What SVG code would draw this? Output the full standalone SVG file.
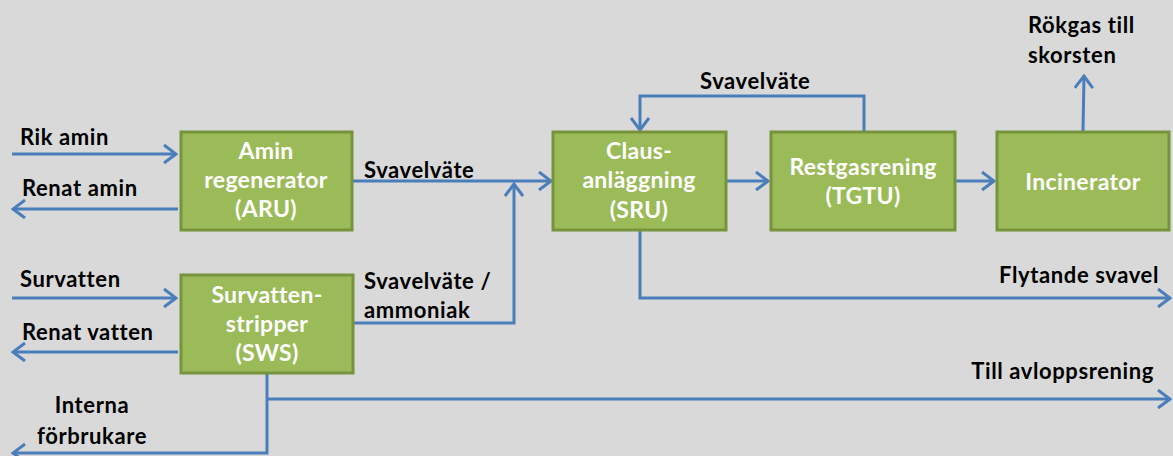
<svg xmlns="http://www.w3.org/2000/svg" width="1173" height="456" viewBox="0 0 1173 456">
<style>
.box{fill:#9bbb59;stroke:#77933c;stroke-width:3}
.bt{font-family:Lato,"Liberation Sans",sans-serif;font-weight:bold;font-size:23px;letter-spacing:0.3px;fill:#fff;text-anchor:middle}
.lb{font-family:Lato,"Liberation Sans",sans-serif;font-weight:bold;font-size:22px;letter-spacing:0.6px;fill:#000}
.ln{fill:none;stroke:#4a7ebb;stroke-width:3}
.ar{marker-end:url(#ah)}
</style>
<defs>
<marker id="ah" markerUnits="userSpaceOnUse" viewBox="0 0 16 20" refX="14" refY="10" markerWidth="16" markerHeight="20" orient="auto">
<path d="M2,1 L14,10 L2,19" fill="none" stroke="#4a7ebb" stroke-width="3"/>
</marker>
</defs>
<rect width="1173" height="456" fill="#d9d9d9"/>
<g id="connectors">
<path class="ln ar" d="M12,154 H176"/>
<path class="ln ar" d="M178,209 H13"/>
<path class="ln ar" d="M352,181 H551"/>
<path class="ln ar" d="M352,323 H514 V184"/>
<path class="ln ar" d="M726,181 H768"/>
<path class="ln ar" d="M955,181 H994"/>
<path class="ln ar" d="M864,132 V96 H640 V130"/>
<path class="ln ar" d="M1083,131 L1084,76"/>
<path class="ln ar" d="M640,230 V298 H1170"/>
<path class="ln ar" d="M12,298 H176"/>
<path class="ln ar" d="M178,352 H13"/>
<path class="ln" d="M267,373 V399"/>
<path class="ln ar" d="M267,399 H1170"/>
<path class="ln ar" d="M267,399 V453 H13"/>
</g>
<g id="labels">
<text class="lb" x="20" y="145">Rik amin</text>
<text class="lb" x="22" y="196">Renat amin</text>
<text class="lb" x="20" y="287">Survatten</text>
<text class="lb" x="22" y="340">Renat vatten</text>
<text class="lb" x="92" y="413" text-anchor="middle">Interna</text>
<text class="lb" x="92" y="444" text-anchor="middle">förbrukare</text>
<text class="lb" x="364" y="178">Svavelväte</text>
<text class="lb" x="364" y="289">Svavelväte /</text>
<text class="lb" x="364" y="318">ammoniak</text>
<text class="lb" x="700" y="89">Svavelväte</text>
<text class="lb" x="1028" y="33">Rökgas till</text>
<text class="lb" x="1028" y="63">skorsten</text>
<text class="lb" x="1159" y="283" text-anchor="end">Flytande svavel</text>
<text class="lb" x="1154" y="379" text-anchor="end">Till avloppsrening</text>
</g>
<g id="aru">
<rect class="box" x="181" y="132" width="171" height="98"/>
<text class="bt" x="266" y="159">Amin</text>
<text class="bt" x="266" y="188">regenerator</text>
<text class="bt" x="266" y="217">(ARU)</text>
</g>
<g id="sws">
<rect class="box" x="181" y="275" width="172" height="98"/>
<text class="bt" x="267" y="303">Survatten-</text>
<text class="bt" x="267" y="332">stripper</text>
<text class="bt" x="267" y="361">(SWS)</text>
</g>
<g id="sru">
<rect class="box" x="553" y="132" width="173" height="98"/>
<text class="bt" x="639" y="159">Claus-</text>
<text class="bt" x="639" y="188">anläggning</text>
<text class="bt" x="639" y="218">(SRU)</text>
</g>
<g id="tgtu">
<rect class="box" x="771" y="132" width="184" height="98"/>
<text class="bt" x="863" y="175">Restgasrening</text>
<text class="bt" x="863" y="204">(TGTU)</text>
</g>
<g id="incinerator">
<rect class="box" x="997" y="132" width="172" height="98"/>
<text class="bt" x="1083" y="190">Incinerator</text>
</g>
</svg>
